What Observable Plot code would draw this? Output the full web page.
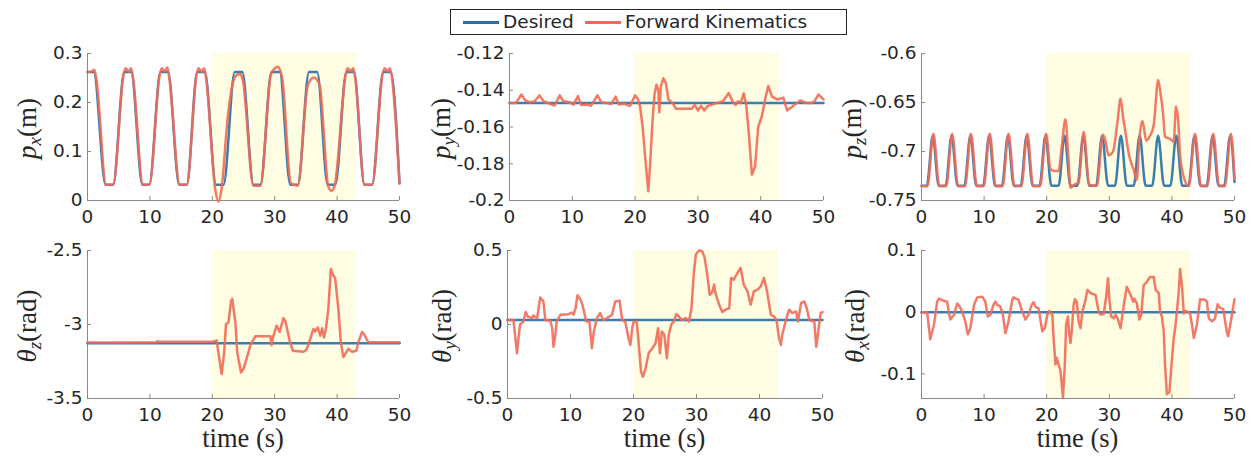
<!DOCTYPE html>
<html>
<head>
<meta charset="utf-8">
<script src="https://cdn.jsdelivr.net/npm/d3@7"></script>
<script src="https://cdn.jsdelivr.net/npm/@observablehq/plot@0.6"></script>
<style>
  html, body { margin: 0; padding: 0; background: #fff; }
  #root { position: relative; width: 1255px; height: 458px; overflow: hidden; }
  .panel { position: absolute; }
  #legend { position: absolute; left: 450px; top: 9px; width: 395px; height: 24px;
            border: 1px solid #262626; background: #fff; font-family: "DejaVu Sans"; font-size: 18.5px;
            color: #262626; line-height: 24px; }
  #legend span { position: absolute; top: 0; white-space: nowrap; }
  #legend .sw { position: absolute; top: 11px; height: 3px; width: 36px; }
</style>
</head>
<body>
<div id="root"><div id="legend"></div></div>
<script>
// ---------------- data ----------------
const seriesNames = ["Desired", "Forward Kinematics"];
const seriesColors = ["#2470aa", "#ef6b58"];
const xDomain = [0, 50];
const xTicks = [0, 10, 20, 30, 40, 50];
const xTickLabels = ["0", "10", "20", "30", "40", "50"];
const shadeSpan = [[20, 43]];

// p_x
const pxDomain = [0, 0.3];
const pxTicks = [0, 0.1, 0.2, 0.3];
const pxTickLabels = ["0", "0.1", "0.2", "0.3"];
const pxDesired = [[0,0.262],[1.0,0.262],[2.9,0.032],[4.1,0.032],[5.9,0.262],[7.0,0.262],[8.8,0.032],[9.9,0.032],[11.7,0.262],[12.9,0.262],[14.7,0.032],[15.9,0.032],[17.6,0.262],[18.8,0.262],[20.6,0.032],[21.8,0.032],[23.6,0.262],[24.8,0.262],[26.6,0.032],[27.7,0.032],[29.5,0.262],[30.8,0.262],[32.5,0.032],[33.7,0.032],[35.5,0.262],[36.8,0.262],[38.5,0.032],[39.7,0.032],[41.5,0.262],[42.7,0.262],[44.4,0.032],[45.6,0.032],[47.4,0.262],[48.6,0.262],[50,0.035]];
const pxFK = [[0,0.262],[0.6,0.263],[1.1,0.267],[1.4,0.25],[3.0,0.032],[4.1,0.032],[5.8,0.258],[6.1,0.27],[6.6,0.263],[7.0,0.27],[7.3,0.25],[8.9,0.032],[9.9,0.032],[11.6,0.258],[11.9,0.27],[12.4,0.264],[12.8,0.272],[13.1,0.25],[14.8,0.032],[15.9,0.032],[17.5,0.258],[17.8,0.27],[18.3,0.263],[18.7,0.27],[19.0,0.25],[20.5,0.02],[21.0,-0.002],[21.5,0.025],[22.4,0.16],[23.3,0.24],[23.9,0.256],[24.5,0.258],[24.9,0.245],[26.6,0.03],[27.7,0.03],[29.4,0.258],[29.9,0.268],[30.5,0.273],[30.9,0.265],[31.2,0.25],[32.6,0.035],[33.7,0.03],[35.3,0.235],[36.3,0.251],[37.2,0.235],[38.6,0.028],[39.1,0.02],[39.6,0.03],[41.4,0.258],[41.7,0.27],[42.2,0.264],[42.6,0.27],[42.9,0.25],[44.4,0.032],[45.6,0.032],[47.3,0.258],[47.6,0.27],[48.1,0.264],[48.5,0.27],[48.8,0.25],[50,0.035]];

// p_y
const pyDomain = [-0.2, -0.12];
const pyTicks = [-0.2, -0.18, -0.16, -0.14, -0.12];
const pyTickLabels = ["-0.2", "-0.18", "-0.16", "-0.14", "-0.12"];
const pyDesired = [[0,-0.147],[50,-0.147]];
const pyFK = [[0,-0.147],[1.0,-0.147],[1.9,-0.1423],[2.5,-0.1455],[3.2,-0.1465],[4.0,-0.146],[4.8,-0.1428],[5.4,-0.146],[6.5,-0.1475],[7.2,-0.1483],[8.0,-0.1428],[8.6,-0.146],[9.5,-0.1465],[10.2,-0.1478],[10.9,-0.1432],[11.4,-0.148],[12.3,-0.1478],[13.0,-0.1484],[14.0,-0.1428],[14.6,-0.1465],[15.5,-0.147],[16.2,-0.1475],[16.9,-0.1435],[17.4,-0.1478],[18.3,-0.1474],[19.2,-0.1486],[20.0,-0.1428],[20.4,-0.1445],[20.8,-0.149],[21.2,-0.16],[21.7,-0.18],[22.1,-0.195],[22.4,-0.18],[22.8,-0.155],[23.1,-0.142],[23.4,-0.137],[23.7,-0.14],[23.85,-0.152],[24.1,-0.138],[24.5,-0.1335],[24.9,-0.136],[25.3,-0.145],[26.0,-0.147],[26.5,-0.15],[29.0,-0.150],[29.5,-0.148],[30.0,-0.151],[30.5,-0.1485],[31.0,-0.151],[31.5,-0.1488],[32.0,-0.148],[33.0,-0.147],[34.0,-0.146],[34.9,-0.1415],[35.5,-0.146],[36.0,-0.148],[36.4,-0.146],[36.8,-0.147],[37.3,-0.1417],[37.7,-0.148],[38.1,-0.163],[38.6,-0.186],[39.1,-0.1815],[39.6,-0.16],[40.2,-0.154],[40.7,-0.145],[41.2,-0.1377],[41.8,-0.1435],[42.6,-0.145],[43.6,-0.144],[44.2,-0.151],[45.2,-0.1485],[46.3,-0.1455],[47.3,-0.147],[48.1,-0.147],[48.6,-0.1458],[49.2,-0.1423],[50,-0.145]];

// p_z
const pzDomain = [-0.75, -0.6];
const pzTicks = [-0.75, -0.7, -0.65, -0.6];
const pzTickLabels = ["-0.75", "-0.7", "-0.65", "-0.6"];
const pzDesired = [[0,-0.735],[0.85,-0.735],[1.8,-0.684],[2.75,-0.735],[3.85,-0.735],[4.8,-0.684],[5.75,-0.735],[6.85,-0.735],[7.8,-0.684],[8.75,-0.735],[9.85,-0.735],[10.8,-0.684],[11.75,-0.735],[12.85,-0.735],[13.8,-0.684],[14.75,-0.735],[15.85,-0.735],[16.8,-0.684],[17.75,-0.735],[18.85,-0.735],[19.8,-0.684],[20.75,-0.735],[21.9,-0.735],[22.85,-0.684],[23.8,-0.735],[24.9,-0.735],[25.85,-0.684],[26.8,-0.735],[27.9,-0.735],[28.85,-0.684],[29.8,-0.735],[30.9,-0.735],[31.85,-0.684],[32.8,-0.735],[33.9,-0.735],[34.85,-0.684],[35.8,-0.735],[36.85,-0.735],[37.8,-0.684],[38.75,-0.735],[39.75,-0.735],[40.7,-0.684],[41.65,-0.735],[42.65,-0.735],[43.6,-0.684],[44.55,-0.735],[45.55,-0.735],[46.5,-0.684],[47.45,-0.735],[48.35,-0.735],[49.3,-0.684],[50,-0.731]];
const pzFK = [[0,-0.7355],[0.95,-0.7355],[1.9,-0.682],[2.85,-0.7355],[3.95,-0.7355],[4.9,-0.682],[5.85,-0.7355],[6.95,-0.7355],[7.9,-0.682],[8.85,-0.7355],[9.95,-0.7355],[10.9,-0.682],[11.85,-0.7355],[12.95,-0.7355],[13.9,-0.682],[14.85,-0.7355],[15.95,-0.7355],[16.9,-0.682],[17.85,-0.7355],[18.95,-0.7355],[19.9,-0.682],[20.6,-0.718],[21.3,-0.72],[21.9,-0.72],[22.4,-0.695],[23.0,-0.667],[23.4,-0.70],[23.8,-0.737],[24.6,-0.733],[25.1,-0.732],[25.9,-0.68],[26.8,-0.734],[28.0,-0.735],[29.0,-0.683],[29.4,-0.69],[29.9,-0.704],[30.6,-0.70],[31.3,-0.67],[31.8,-0.646],[32.2,-0.665],[32.6,-0.681],[33.1,-0.702],[33.9,-0.719],[34.4,-0.729],[34.8,-0.688],[35.3,-0.669],[35.9,-0.689],[36.5,-0.684],[37.1,-0.673],[37.8,-0.627],[38.1,-0.637],[38.6,-0.662],[38.9,-0.685],[39.7,-0.687],[40.3,-0.69],[40.65,-0.654],[41.0,-0.668],[41.3,-0.703],[41.9,-0.726],[42.7,-0.7355],[43.7,-0.682],[44.65,-0.7355],[45.65,-0.7355],[46.6,-0.682],[47.55,-0.7355],[48.45,-0.7355],[49.45,-0.682],[50,-0.728]];

// theta_z
const tzDomain = [-3.5, -2.5];
const tzTicks = [-3.5, -3, -2.5];
const tzTickLabels = ["-3.5", "-3", "-2.5"];
const tzDesired = [[0,-3.127],[50,-3.127]];
const tzFK = [[0,-3.121],[11,-3.12],[11.2,-3.113],[11.5,-3.117],[20.1,-3.116],[20.7,-3.108],[21.3,-3.28],[21.5,-3.335],[21.9,-3.19],[22.2,-2.997],[22.6,-2.985],[23.0,-2.84],[23.2,-2.827],[23.7,-2.985],[24.0,-3.19],[24.6,-3.325],[25.0,-3.30],[25.5,-3.23],[26.1,-3.14],[26.9,-3.08],[29.3,-3.08],[29.5,-3.14],[29.8,-3.075],[30.3,-3.008],[30.8,-3.05],[31.4,-2.958],[31.7,-2.974],[32.4,-3.11],[32.9,-3.177],[34.6,-3.184],[35.1,-3.17],[35.7,-3.098],[36.2,-3.03],[36.5,-3.048],[36.9,-3.02],[37.3,-3.076],[37.6,-3.026],[37.9,-3.087],[38.2,-3.03],[38.6,-2.895],[39.0,-2.625],[39.3,-2.66],[39.7,-2.69],[40.2,-2.895],[40.6,-3.12],[41.0,-3.22],[41.8,-3.165],[42.4,-3.184],[43.1,-3.177],[43.4,-3.12],[44.0,-3.05],[44.3,-3.065],[45.0,-3.12],[50,-3.12]];

// theta_y
const tyDomain = [-0.5, 0.5];
const tyTicks = [-0.5, 0, 0.5];
const tyTickLabels = ["-0.5", "0", "0.5"];
const tyDesired = [[0,0.03],[50,0.03]];
const tyFK = [[0,0.03],[0.95,0.03],[1.2,-0.07],[1.5,-0.195],[1.75,-0.09],[2.0,0.0],[2.5,0.02],[2.9,0.084],[3.2,0.054],[3.9,0.043],[4.1,0.061],[4.7,0.043],[5.2,0.183],[5.7,0.156],[6.0,0.03],[6.8,0.025],[7.1,-0.025],[7.3,-0.15],[7.6,-0.07],[7.8,0.02],[8.4,0.066],[9.7,0.07],[10.2,0.081],[10.5,0.066],[10.8,0.11],[11.1,0.197],[11.6,0.167],[11.9,0.133],[12.5,0.02],[13.0,0.02],[13.4,-0.16],[13.7,-0.048],[14.2,0.043],[14.7,0.077],[15.2,0.03],[15.8,0.043],[16.6,0.066],[17.1,0.156],[17.8,0.16],[18.2,0.03],[18.7,0.02],[19.2,-0.093],[19.5,-0.138],[19.8,-0.025],[20.0,0.016],[20.5,0.02],[20.8,-0.115],[21.2,-0.32],[21.5,-0.353],[21.9,-0.3],[22.4,-0.195],[23.0,-0.16],[23.5,-0.127],[23.9,-0.025],[24.2,-0.195],[24.5,-0.048],[24.9,-0.07],[25.3,-0.228],[25.6,-0.07],[26.0,0.0],[26.4,0.02],[26.8,0.07],[27.2,0.054],[27.7,0.03],[28.3,0.043],[28.8,0.02],[29.2,0.11],[29.6,0.36],[29.9,0.473],[30.4,0.5],[30.9,0.495],[31.3,0.45],[31.7,0.337],[32.1,0.2],[32.5,0.22],[32.8,0.27],[33.0,0.213],[33.6,0.133],[34.1,0.084],[34.6,0.1],[35.2,0.11],[35.5,0.315],[35.9,0.303],[36.5,0.348],[37.0,0.382],[37.5,0.27],[38.1,0.224],[38.6,0.133],[39.1,0.224],[39.7,0.235],[40.2,0.258],[40.7,0.315],[41.2,0.224],[41.8,0.066],[42.3,0.054],[42.7,0.03],[43.1,-0.093],[43.4,-0.138],[43.6,-0.07],[44.2,0.03],[44.7,0.1],[45.2,0.077],[45.8,0.088],[46.1,0.02],[46.6,0.145],[47.1,0.156],[47.5,0.11],[47.9,0.03],[48.7,0.02],[49.0,-0.15],[49.2,-0.093],[49.7,0.077],[50,0.084]];

// theta_x
const txDomain = [-0.14, 0.1];
const txTicks = [-0.1, 0, 0.1];
const txTickLabels = ["-0.1", "0", "0.1"];
const txDesired = [[0,0],[50,0]];
const txFK = [[0,0],[0.9,0],[1.4,-0.044],[2.0,-0.02],[2.5,0.017],[2.8,0.022],[3.6,0.018],[4.1,0.017],[4.4,-0.002],[4.6,-0.012],[5.2,-0.004],[5.7,0.014],[6.1,0.009],[6.5,0.001],[7.0,-0.015],[7.4,-0.036],[7.8,-0.026],[8.4,0.012],[8.9,0.024],[9.7,0.025],[10.2,0.017],[10.6,-0.007],[11.0,-0.004],[11.5,0.012],[11.8,0.017],[12.1,0.012],[12.6,0.009],[13.0,-0.004],[13.4,-0.034],[13.9,-0.015],[14.5,0.02],[14.7,0.024],[15.5,0.02],[16.1,0.001],[16.6,-0.012],[17.1,-0.004],[17.6,0.012],[17.9,0.016],[18.2,0.009],[18.7,0.006],[19.3,-0.031],[19.7,-0.026],[20.1,-0.004],[20.4,0.002],[20.9,-0.004],[21.1,-0.042],[21.4,-0.085],[21.6,-0.074],[21.9,-0.085],[22.2,-0.095],[22.6,-0.138],[22.9,-0.085],[23.1,-0.02],[23.4,-0.007],[23.6,-0.036],[23.8,-0.05],[24.0,-0.031],[24.3,0.012],[24.5,0.021],[24.8,0.017],[25.1,-0.015],[25.4,-0.026],[25.7,0.001],[26.2,0.02],[26.5,0.036],[27.0,0.031],[27.8,0.028],[28.3,0.001],[28.6,-0.004],[29.1,-0.003],[29.5,0.025],[29.8,0.055],[30.0,0.022],[30.3,-0.007],[30.7,-0.01],[31.0,-0.004],[31.4,-0.012],[31.8,-0.026],[32.1,-0.004],[32.4,0.017],[32.8,0.041],[33.4,0.028],[33.8,0.017],[34.0,0.022],[34.4,0.014],[34.8,-0.012],[35.1,-0.004],[35.5,0.044],[36.0,0.049],[36.5,0.057],[37.1,0.057],[37.4,0.036],[37.9,0.031],[38.1,0.001],[38.4,-0.007],[38.7,-0.031],[38.9,-0.085],[39.2,-0.133],[39.6,-0.13],[39.9,-0.09],[40.3,-0.042],[40.6,-0.02],[41.1,0.033],[41.3,0.07],[41.6,0.044],[41.9,-0.002],[42.1,0.002],[42.7,0],[42.9,-0.002],[43.2,-0.02],[43.5,-0.042],[44.0,-0.02],[44.5,0.021],[45.3,0.02],[45.6,0.017],[45.9,-0.01],[46.4,-0.015],[46.9,-0.01],[47.3,0.013],[47.5,0.009],[47.9,0.006],[48.2,0.005],[48.8,-0.034],[49.0,-0.039],[49.5,-0.01],[50,0.021]];

// ---------------- drawing ----------------
const axisGray = "#8a8a8a";
const textColor = "#262626";
const shadeColor = "#fffde2";
const root = document.getElementById("root");

// legend
const legend = document.getElementById("legend");
const legendLayout = [{sw: 12, tx: 52}, {sw: 134, tx: 174}];
seriesNames.forEach((name, i) => {
  const sw = document.createElement("div");
  sw.className = "sw";
  sw.style.left = legendLayout[i].sw + "px";
  sw.style.background = seriesColors[i];
  legend.appendChild(sw);
  const t = document.createElement("span");
  t.style.left = legendLayout[i].tx + "px";
  t.textContent = name;
  legend.appendChild(t);
});

function panel(cfg) {
  const {left, top, ml, mt, pw, ph, mr, mb, yDomain, yTicks, yTickLabels, des, fk, curve, sym, sub, unit, xLabel} = cfg;
  const svg = Plot.plot({
    width: ml + pw + mr, height: mt + ph + mb,
    marginLeft: ml, marginRight: mr, marginTop: mt, marginBottom: mb,
    x: {domain: xDomain},
    y: {domain: yDomain},
    style: {fontFamily: "DejaVu Sans", fontSize: "18.5px", color: textColor, background: "transparent", overflow: "visible"},
    marks: [
      Plot.rect(shadeSpan, {x1: d => d[0], x2: d => d[1], y1: yDomain[0], y2: yDomain[1], fill: shadeColor}),
      Plot.ruleX([xDomain[0]], {stroke: axisGray, strokeWidth: 1}),
      Plot.ruleY([yDomain[0]], {stroke: axisGray, strokeWidth: 1}),
      Plot.axisX({ticks: xTicks, tickFormat: d => xTickLabels[xTicks.indexOf(d)], tickSize: -4, tickPadding: 13, stroke: axisGray, fill: textColor, label: null}),
      Plot.axisY({ticks: yTicks, tickFormat: d => yTickLabels[yTicks.indexOf(d)], tickSize: -4, tickPadding: 9, stroke: axisGray, fill: textColor, label: null}),
      Plot.line(des, {x: d => d[0], y: d => d[1], stroke: seriesColors[0], strokeWidth: 2.5, strokeOpacity: 0.9, curve}),
      Plot.line(fk, {x: d => d[0], y: d => d[1], stroke: seriesColors[1], strokeWidth: 2.5, strokeOpacity: 0.9, curve})
    ]
  });
  svg.classList.add("panel");
  svg.style.left = left + "px";
  svg.style.top = top + "px";
  const s = d3.select(svg);
  // y label (LaTeX-like)
  const yl = s.append("text")
    .attr("transform", `translate(${cfg.ylx},${mt + ph / 2 + 2}) rotate(-90)`)
    .attr("text-anchor", "middle")
    .attr("dy", "0.35em")
    .style("font-family", "'Liberation Serif'")
    .style("font-size", "27px")
    .style("font-weight", "normal")
    .attr("fill", textColor);
  yl.append("tspan").style("font-style", "italic").text(sym);
  yl.append("tspan").style("font-style", "italic").style("font-size", "19px").attr("dy", 5).text(sub);
  yl.append("tspan").attr("dy", -5).text(unit);
  if (xLabel) {
    s.append("text")
      .attr("x", ml + pw / 2)
      .attr("y", mt + ph + 49)
      .attr("text-anchor", "middle")
      .style("font-family", "'Liberation Serif'")
      .style("font-size", "26.5px")
      .style("font-weight", "normal")
      .attr("fill", textColor)
      .text(xLabel);
  }
  root.appendChild(svg);
}

const topRow = {top: 40, mt: 13, ph: 147, mb: 35};
const botRow = {top: 237, mt: 13, ph: 148, mb: 60};

panel({...topRow, left: 0, ml: 87, pw: 312, mr: 12, ylx: 27, yDomain: pxDomain, yTicks: pxTicks, yTickLabels: pxTickLabels, des: pxDesired, fk: pxFK, curve: "monotone-x", sym: "p", sub: "x", unit: "(m)"});
panel({...topRow, left: 418, ml: 91, pw: 314, mr: 8, ylx: 23, yDomain: pyDomain, yTicks: pyTicks, yTickLabels: pyTickLabels, des: pyDesired, fk: pyFK, curve: "linear", sym: "p", sub: "y", unit: "(m)"});
panel({...topRow, left: 833, ml: 88, pw: 313, mr: 8, ylx: 19, yDomain: pzDomain, yTicks: pzTicks, yTickLabels: pzTickLabels, des: pzDesired, fk: pzFK, curve: "monotone-x", sym: "p", sub: "z", unit: "(m)"});
panel({...botRow, left: 0, ml: 87, pw: 312, mr: 12, ylx: 27, yDomain: tzDomain, yTicks: tzTicks, yTickLabels: tzTickLabels, des: tzDesired, fk: tzFK, curve: "linear", sym: "θ", sub: "z", unit: "(rad)", xLabel: "time (s)"});
panel({...botRow, left: 418, ml: 89, pw: 315, mr: 8, ylx: 24, yDomain: tyDomain, yTicks: tyTicks, yTickLabels: tyTickLabels, des: tyDesired, fk: tyFK, curve: "linear", sym: "θ", sub: "y", unit: "(rad)", xLabel: "time (s)"});
panel({...botRow, left: 833, ml: 88, pw: 313, mr: 8, ylx: 22, yDomain: txDomain, yTicks: txTicks, yTickLabels: txTickLabels, des: txDesired, fk: txFK, curve: "linear", sym: "θ", sub: "x", unit: "(rad)", xLabel: "time (s)"});
</script>
</body>
</html>
